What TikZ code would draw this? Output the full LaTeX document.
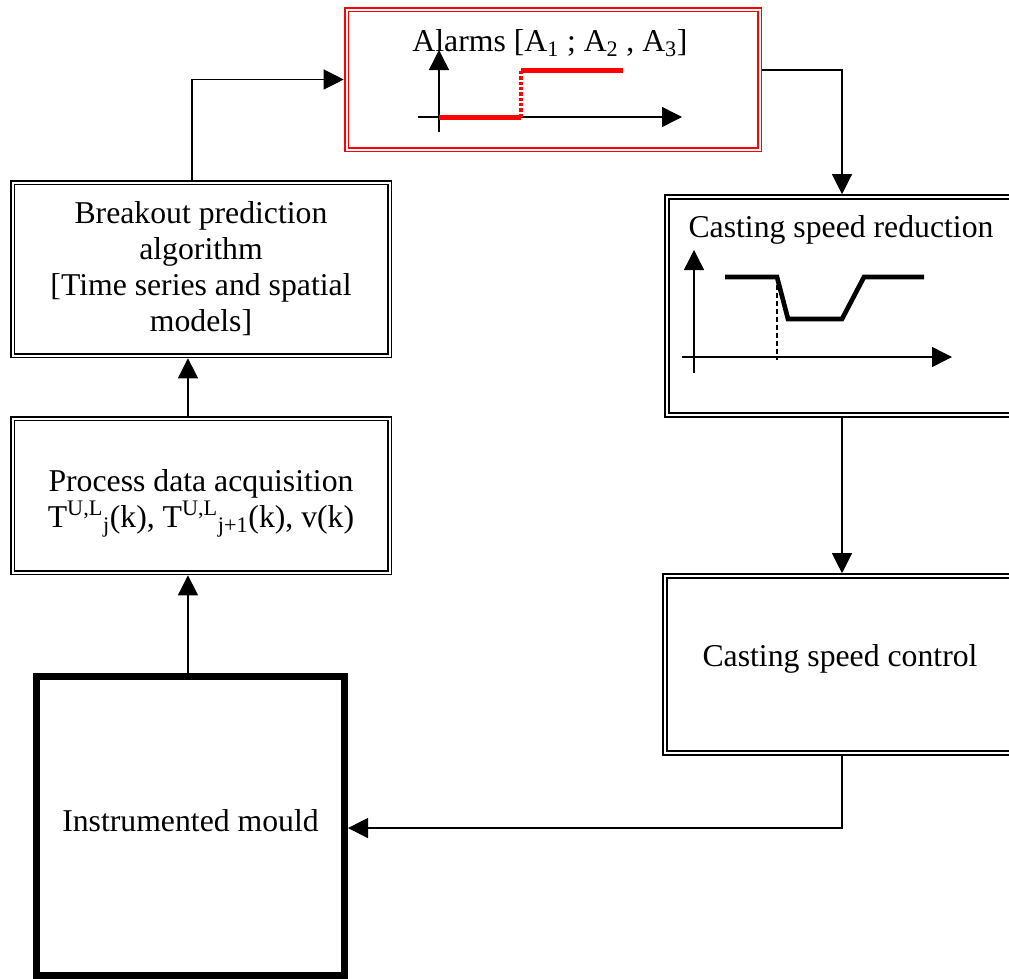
\documentclass[tikz,border=0pt]{standalone}
\usepackage{fontspec}
\setmainfont{Liberation Serif}
\usetikzlibrary{arrows.meta}
\definecolor{alarmred}{RGB}{255,0,0}

\begin{document}
\begin{tikzpicture}[x=0.75pt,y=-0.75pt,
  txt/.style={font=\fontsize{23.8}{27}\selectfont, align=center},
  dbox/.style={draw, double, line width=1.4pt, double distance=1.5pt, inner sep=0pt, outer sep=2.1pt, txt},
  link/.style={-{Triangle[length=15pt,width=15pt]}, line width=0.9pt},
  axis/.style={-{Triangle[length=15pt,width=15pt]}, line width=1.1pt}]
\useasboundingbox (0,0) rectangle (1009,978);
% boxes
\node[dbox, draw=alarmred, minimum width=309.75pt, minimum height=105pt] (alarm) at (553,79.5) {};
\node[dbox, minimum width=282.75pt, minimum height=129.75pt] (breakout) at (201,269) {Breakout prediction\\algorithm\\{[}Time series and spatial\\models{]}};
\node[dbox, minimum width=282.75pt, minimum height=115.5pt] (process) at (201,495.5) {};
\node[draw, line width=5.25pt, inner sep=0pt, minimum width=231pt, minimum height=224.25pt, txt] (mould) at (190.5,825.5) {};
\node[dbox, minimum width=261pt, minimum height=163.5pt] (reduction) at (841,306) {};
\node[dbox, minimum width=262.5pt, minimum height=132.75pt] (control) at (840,664.5) {};
% box texts
\node[txt] (alarmlbl) at (550,43) {Alarms [A\textsubscript{1} ; A\textsubscript{2} , A\textsubscript{3}]};
\node[txt] (processlbl) at (201,503) {Process data acquisition\\T\textsuperscript{U,L}\textsubscript{j}(k), T\textsuperscript{U,L}\textsubscript{j+1}(k), v(k)};
\node[txt] (mouldlbl) at (190.5,821) {Instrumented mould};
\node[txt] (reductionlbl) at (841,230) {Casting speed reduction};
\node[txt] (controllbl) at (840,659) {Casting speed control};
% alarm step
\draw[axis] (418,117) -- (682,117);
\draw[axis] (439,132) -- (439,50);
\draw[alarmred, line width=3.75pt] (439,117) -- (521,117);
\draw[alarmred, line width=3pt, dash pattern=on 2.5pt off 1.5pt] (521,117) -- (521,70);
\draw[alarmred, line width=3.75pt] (521,70) -- (623,70);
% speed profile
\draw[axis] (682,357) -- (952,357);
\draw[axis] (694,373) -- (694,250);
\draw[line width=0.8pt, dash pattern=on 4pt off 2pt] (777,277) -- (777,360);
\draw[line width=3.5pt] (725,277) -- (777,277) -- (788,319) -- (842,319) -- (864,277) -- (924,277);
% connectors
\draw[link] ([xshift=-1.9pt]mould.north) -- ([xshift=-1.9pt]mould.north |- process.south);
\draw[link] ([xshift=-1.9pt]mould.north |- process.north) -- ([xshift=-1.9pt]mould.north |- breakout.south);
\draw[link] ([xshift=-6.75pt]breakout.north) |- (alarm.west);
\draw[link] ([yshift=7.1pt]alarm.east) -| ([xshift=0.75pt]reduction.north);
\draw[link] ([xshift=0.75pt]reduction.south) -- ([xshift=0.75pt]reduction.south |- control.north);
\draw[link] ([xshift=1.5pt]control.south) |- ([yshift=-1.9pt]mould.east);
\end{tikzpicture}
\end{document}
